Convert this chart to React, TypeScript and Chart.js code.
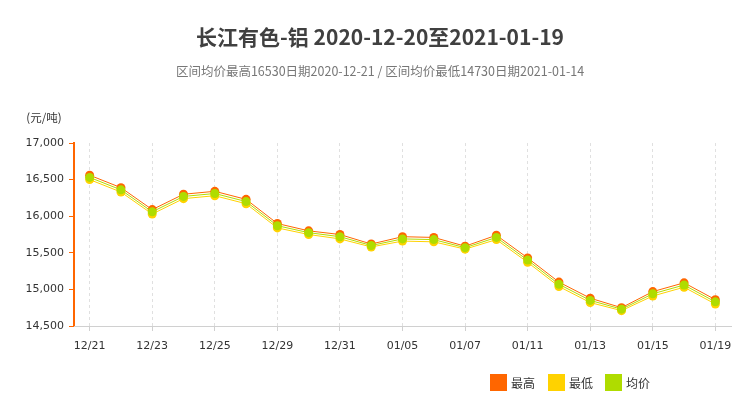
import React, { useEffect, useRef } from "react";
import { Chart, registerables } from "chart.js";

Chart.register(...registerables);

const titleText = "长江有色-铝 2020-12-20至2021-01-19";
const subtitleText = "区间均价最高16530日期2020-12-21 / 区间均价最低14730日期2021-01-14";
const unitText = "(元/吨)";

const dates = [
  "12/21", "12/22", "12/23", "12/24", "12/25", "12/28", "12/29", "12/30", "12/31",
  "01/04", "01/05", "01/06", "01/07", "01/08", "01/11", "01/12", "01/13", "01/14",
  "01/15", "01/18", "01/19",
];

const highValues = [
  16560, 16390, 16090, 16300, 16340, 16230, 15900, 15800, 15750, 15620, 15720,
  15710, 15590, 15740, 15430, 15100, 14880, 14750, 14970, 15090, 14860,
];
const lowValues = [
  16500, 16330, 16030, 16240, 16280, 16170, 15840, 15750, 15690, 15580, 15660,
  15650, 15550, 15680, 15370, 15040, 14820, 14710, 14910, 15030, 14800,
];
const avgValues = [
  16530, 16360, 16060, 16270, 16310, 16200, 15870, 15775, 15720, 15600, 15690,
  15680, 15570, 15710, 15400, 15070, 14850, 14730, 14940, 15060, 14830,
];

const seriesNames = ["最高", "最低", "均价"];
const seriesColors = ["#ff6600", "#ffd200", "#afdc00"];

const yMin = 14500;
const yMax = 17000;
const yStep = 500;

const FONT = "'DejaVu Sans', Verdana, sans-serif";
const CJK = "'Noto Sans CJK SC', 'DejaVu Sans', sans-serif";

const overlayPlugin = {
  id: "overlay",
  afterDraw(chart: any) {
    const ctx = chart.ctx;
    const area = chart.chartArea;
    ctx.save();
    // solid x-axis line
    ctx.strokeStyle = "#d0d0d0";
    ctx.lineWidth = 1;
    ctx.setLineDash([]);
    ctx.beginPath();
    ctx.moveTo(area.left, Math.round(area.bottom) + 0.5);
    ctx.lineTo(area.right, Math.round(area.bottom) + 0.5);
    ctx.stroke();

    ctx.textAlign = "center";
    ctx.textBaseline = "middle";
    ctx.fillStyle = "#404040";
    ctx.font = `bold 21px ${CJK}`;
    ctx.fillText(titleText, 380, 37);
    ctx.fillStyle = "#777777";
    ctx.font = `12.5px ${CJK}`;
    ctx.fillText(subtitleText, 380, 71);
    ctx.fillStyle = "#333333";
    ctx.font = `11.5px ${CJK}`;
    ctx.fillText(unitText, 44, 118);

    // legend
    const xs = [490, 548, 605];
    chart.data.datasets.forEach((ds: any, i: number) => {
      ctx.fillStyle = ds.borderColor;
      ctx.fillRect(xs[i], 374, 17, 17);
      ctx.fillStyle = "#333333";
      ctx.textAlign = "left";
      ctx.font = `12px ${CJK}`;
      ctx.fillText(ds.label, xs[i] + 21, 383);
    });
    ctx.restore();
  },
};

export default function App() {
  const canvasRef = useRef<HTMLCanvasElement | null>(null);

  useEffect(() => {
    if (!canvasRef.current) return;
    const values = [highValues, lowValues, avgValues];
    const chart = new Chart(canvasRef.current, {
      type: "line",
      data: {
        labels: dates,
        datasets: values.map((v, i) => ({
          label: seriesNames[i],
          data: v,
          borderColor: seriesColors[i],
          backgroundColor: seriesColors[i],
          pointBackgroundColor: seriesColors[i],
          pointBorderColor: seriesColors[i],
          borderWidth: 1,
          pointRadius: 4.5,
          pointBorderWidth: 0,
          tension: 0,
          order: 3 - i,
        })),
      },
      options: {
        responsive: false,
        animation: false,
        layout: { padding: { top: 143, right: 22, bottom: 0, left: 0 } },
        plugins: {
          legend: { display: false },
          title: { display: false },
          tooltip: { enabled: false },
        },
        scales: {
          x: {
            offset: true,
            afterFit: (scale: any) => {
              scale.height = 73;
            },
            border: { color: "#d0d0d0", width: 1, dash: [3, 3] },
            grid: {
              color: (c: any) => (c.index % 2 === 0 ? "#e0e0e0" : "rgba(0,0,0,0)"),
              tickColor: (c: any) => (c.index % 2 === 0 ? "#d0d0d0" : "rgba(0,0,0,0)"),
              tickLength: 5,
              drawOnChartArea: true,
            },
            ticks: {
              autoSkip: false,
              maxRotation: 0,
              color: "#333333",
              font: { family: FONT, size: 11 },
              padding: 9,
              callback: (_v: any, i: number) => (i % 2 === 0 ? dates[i] : ""),
            },
          },
          y: {
            min: yMin,
            max: yMax,
            afterFit: (scale: any) => {
              scale.width = 74;
            },
            border: { color: "#ff6600", width: 2 },
            grid: {
              drawOnChartArea: false,
              drawTicks: true,
              tickColor: "#ff6600",
              tickLength: 5,
            },
            ticks: {
              stepSize: yStep,
              color: "#333333",
              padding: 5,
              font: { family: FONT, size: 11 },
              callback: (v: any) => Number(v).toLocaleString("en-US"),
            },
          },
        },
      },
      plugins: [overlayPlugin],
    });
    return () => chart.destroy();
  }, []);

  return (
    <div style={{ position: "absolute", left: 0, top: 0, width: 753, height: 399 }}>
      <canvas ref={canvasRef} width={753} height={399} />
    </div>
  );
}
